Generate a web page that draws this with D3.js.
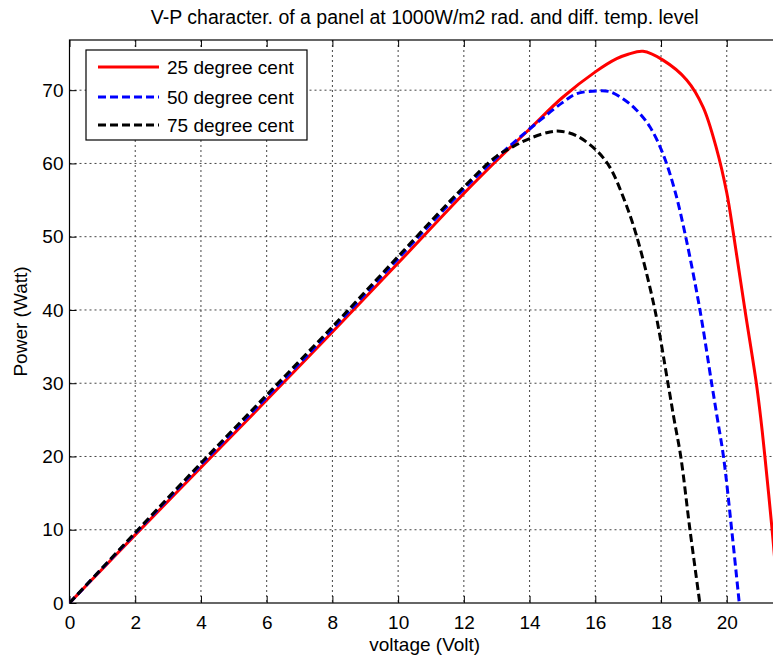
<!DOCTYPE html>
<html>
<head>
<meta charset="utf-8">
<script src="https://cdn.jsdelivr.net/npm/d3@7"></script>
<style>
  body { margin: 0; background: #fff; }
  svg { display: block; font-family: "Liberation Sans", Arial, sans-serif; }
</style>
</head>
<body>
<div id="chart"></div>
<script>
// curves (voltage in V, power in W)
var v25 = [0, 1, 2, 4, 6, 8, 10, 12, 13, 14, 15, 16, 16.65, 17, 17.45, 18.06, 18.78, 19.28, 19.69, 20.0, 20.2, 20.55, 20.9, 21.04, 21.16, 21.38, 21.5, 21.6];
var p25 = [0, 4.65, 9.3, 18.5, 27.7, 37.0, 46.4, 55.9, 60.4, 64.7, 69.0, 72.5, 74.3, 74.9, 75.3, 74.1, 71.4, 67.7, 62.0, 56.0, 50.5, 40.1, 30, 25, 20, 10, 4, 0];

var v50 = [0, 2, 4, 6, 8, 10, 12, 13, 14, 15, 15.42, 16.03, 16.44, 16.85, 17.25, 17.66, 18.06, 18.42, 18.75, 19.18, 19.54, 19.72, 19.9, 20.15, 20.38];
var p50 = [0, 9.5, 18.9, 28.1, 37.4, 47.0, 56.5, 60.8, 64.7, 68.3, 69.5, 69.9, 69.8, 68.8, 67.3, 65.0, 61.3, 56.3, 50, 40.1, 30, 25, 20, 10, 0];

var v75 = [0, 2, 4, 6, 8, 10, 12, 13, 13.5, 14, 14.62, 14.92, 15.42, 16.03, 16.44, 16.85, 17.25, 17.81, 18.21, 18.4, 18.6, 18.88, 19.18];
var p75 = [0, 9.6, 19.1, 28.4, 37.7, 47.3, 56.8, 61.0, 62.3, 63.4, 64.3, 64.4, 63.8, 61.8, 59.5, 55.4, 50.2, 40.1, 30, 25, 20, 10, 0];

var seriesNames = ["25 degree cent", "50 degree cent", "75 degree cent"];
var seriesColors = ["#ff0000", "#0000ff", "#000000"];
var xTicks = [0, 2, 4, 6, 8, 10, 12, 14, 16, 18, 20];
var yTicks = [0, 10, 20, 30, 40, 50, 60, 70];

var width = 773, height = 660;
var margin = {top: 40, right: -7, bottom: 57, left: 69.5};
var pw = width - margin.left - margin.right,
    ph = height - margin.top - margin.bottom;

var x = d3.scaleLinear().domain([0, 21.62]).range([0, pw]);
var y = d3.scaleLinear().domain([0, 76.85]).range([ph, 0]);

var svg = d3.select("#chart").append("svg")
  .attr("width", width).attr("height", height);

svg.append("text")
  .attr("x", margin.left + pw / 2).attr("y", 24)
  .attr("text-anchor", "middle")
  .style("font-size", "19.5px")
  .text("V-P character. of a panel at 1000W/m2 rad. and diff. temp. level");

var g = svg.append("g")
  .attr("transform", "translate(" + margin.left + "," + margin.top + ")");

g.append("clipPath").attr("id", "clip")
  .append("rect").attr("width", pw).attr("height", ph);

// grid
g.selectAll(".gx").data(xTicks.slice(1)).enter().append("line")
  .attr("x1", d => x(d)).attr("x2", d => x(d))
  .attr("y1", 0).attr("y2", ph)
  .attr("stroke", "#444").attr("stroke-width", 1).attr("stroke-dasharray", "2,3");
g.selectAll(".gy").data(yTicks.slice(1)).enter().append("line")
  .attr("y1", d => y(d)).attr("y2", d => y(d))
  .attr("x1", 0).attr("x2", pw)
  .attr("stroke", "#444").attr("stroke-width", 1).attr("stroke-dasharray", "2,3");

// axes
var xAxis = g.append("g").attr("transform", "translate(0," + ph + ")")
  .call(d3.axisBottom(x).tickValues(xTicks).tickSize(-7).tickPadding(13).tickFormat(d3.format("d")));
var xTop = g.append("g")
  .call(d3.axisTop(x).tickValues(xTicks).tickSize(-7).tickFormat(""));
var yAxis = g.append("g")
  .call(d3.axisLeft(y).tickValues(yTicks).tickSize(-7).tickPadding(6).tickFormat(d3.format("d")));
[xAxis, xTop, yAxis].forEach(function(a) {
  a.select(".domain").remove();
  a.selectAll("line").attr("stroke", "#000");
  a.selectAll("text").style("font-size", "19px").attr("fill", "#000").style("font-family", "Liberation Sans, Arial, sans-serif");
});
xAxis.selectAll("text").attr("dy", "0.71em");

g.append("rect").attr("width", pw).attr("height", ph)
  .attr("fill", "none").attr("stroke", "#000").attr("stroke-width", 1.2);

// curves
var line = d3.line().x(d => x(d[0])).y(d => y(d[1])).curve(d3.curveCatmullRom.alpha(0.5));
var series = [d3.zip(v25, p25), d3.zip(v50, p50), d3.zip(v75, p75)];
var dashes = [null, "8,4", "8,4"];
g.append("g").attr("clip-path", "url(#clip)")
  .selectAll("path").data(series).enter().append("path")
  .attr("d", line)
  .attr("fill", "none")
  .attr("stroke", (d, i) => seriesColors[i])
  .attr("stroke-width", 3)
  .attr("stroke-dasharray", (d, i) => dashes[i]);

// axis labels
svg.append("text")
  .attr("x", margin.left + pw / 2).attr("y", 651)
  .attr("text-anchor", "middle").style("font-size", "19px")
  .text("voltage (Volt)");
svg.append("text")
  .attr("transform", "translate(27," + (margin.top + ph / 2) + ") rotate(-90)")
  .attr("text-anchor", "middle").style("font-size", "19px")
  .text("Power (Watt)");

// legend
var lg = svg.append("g").attr("transform", "translate(86,50)");
lg.append("rect").attr("width", 221).attr("height", 90)
  .attr("fill", "#fff").attr("stroke", "#000").attr("stroke-width", 1.2);
var rows = lg.selectAll(".row").data(seriesNames).enter().append("g")
  .attr("transform", (d, i) => "translate(0," + [17, 47, 75][i] + ")");
rows.append("line")
  .attr("x1", 12).attr("x2", 73)
  .attr("stroke", (d, i) => seriesColors[i])
  .attr("stroke-width", 3)
  .attr("stroke-dasharray", (d, i) => dashes[i]);
rows.append("text")
  .attr("x", 81).attr("y", 7)
  .style("font-size", "19px")
  .text(d => d);
</script>
</body>
</html>
